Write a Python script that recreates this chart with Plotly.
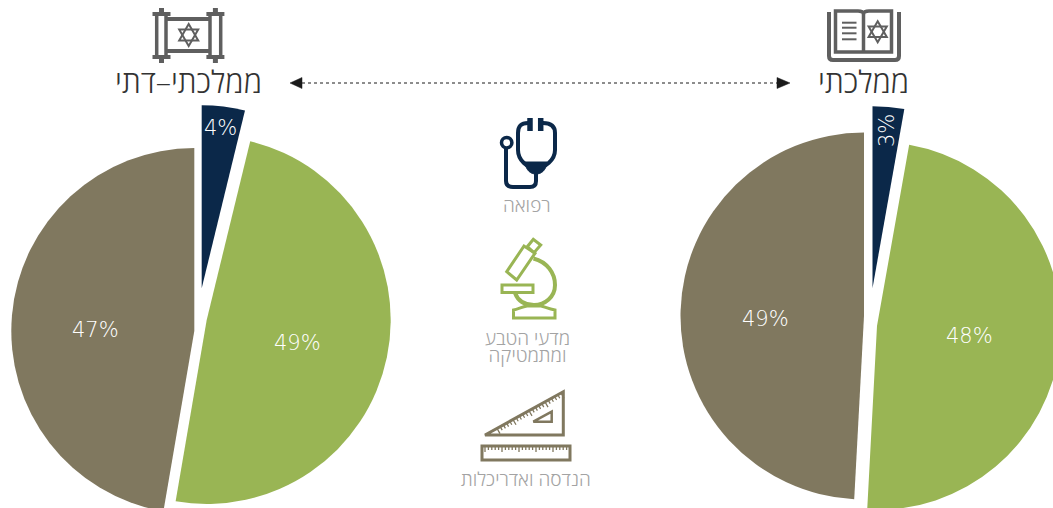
import math
import plotly.graph_objects as go

# canvas is larger than the window so the pies can run off the edge like the original
W, H = 1100, 560

SEGMENTS = ["רפואה", "מדעי הטבע ומתמטיקה", "הנדסה ואדריכלות"]
# printed labels are these rounded
RELIGIOUS = [3.8, 48.9, 47.3]
STATE = [2.8, 48.1, 49.2]

NAVY = "#0b2849"
GREEN = "#99b554"
TAUPE = "#80785f"
COLORS = [NAVY, GREEN, TAUPE]
ICON_GREY = "#5f5f5f"
TEXT_DARK = "#333333"
TEXT_GREY = "#a3a3a3"
HEB_FONT = "Open Sans"
PCT_FONT = dict(family="DejaVu Sans", size=21, color="white", weight=200)

# slice centre x, y and radius (px); each slice is pushed out by hand
LEFT_SLICES = [(201.7, 288.3, 183), (206.7, 320, 184), (194.3, 331, 183)]
RIGHT_SLICES = [(872.5, 288.3, 182), (877, 326, 184), (864, 316, 183.5)]


def slice_trace(values, idx, cx, cy, r):
    colors = ["rgba(0,0,0,0)"] * len(values)
    colors[idx] = COLORS[idx]
    return go.Pie(
        labels=SEGMENTS, values=values, sort=False, direction="clockwise", rotation=0,
        marker=dict(colors=colors, line=dict(width=0)),
        textinfo="none", hoverinfo="skip", showlegend=False,
        domain=dict(x=[(cx - r) / W, (cx + r) / W], y=[1 - (cy + r) / H, 1 - (cy - r) / H]),
    )


fig = go.Figure()
# invisible point so the pixel axes exist for the icons
fig.add_trace(go.Scatter(x=[0], y=[0], mode="markers", marker=dict(opacity=0), hoverinfo="skip", showlegend=False))
for i, (cx, cy, r) in enumerate(LEFT_SLICES):
    fig.add_trace(slice_trace(RELIGIOUS, i, cx, cy, r))
for i, (cx, cy, r) in enumerate(RIGHT_SLICES):
    fig.add_trace(slice_trace(STATE, i, cx, cy, r))


def draw(path, color, width=2.0, fill=None):
    fig.add_shape(type="path", path=path, xref="x", yref="y", layer="above",
                  line=dict(color=color, width=width), fillcolor=fill or "rgba(0,0,0,0)")


def line(x0, y0, x1, y1, color, width=2.0):
    draw(f"M {x0} {y0} L {x1} {y1}", color, width)


def star(cx, cy, r, color, width=2.0):
    for off in (-90, 90):
        pts = [(cx + r * math.cos(math.radians(off + k * 120)),
                cy + r * math.sin(math.radians(off + k * 120))) for k in range(3)]
        draw("M " + " L ".join(f"{x:.1f} {y:.1f}" for x, y in pts) + " Z", color, width)


def text(x, y, s, size, color, family=HEB_FONT, weight=300):
    fig.add_annotation(x=x, y=y, text=s, showarrow=False, xref="x", yref="y",
                       font=dict(family=family, size=size, color=color, weight=weight))


# torah scroll
for x0, x1, knob in [(156.7, 166, 161.5), (210, 220.7, 215.4)]:
    line(x0, 13, x0, 58, ICON_GREY, 3.5)
    line(x1, 13, x1, 58, ICON_GREY, 3.5)
    line(knob - 9, 14, knob + 9, 14, ICON_GREY, 4)
    line(knob - 9, 57, knob + 9, 57, ICON_GREY, 4)
    line(knob, 8, knob, 14, ICON_GREY, 5)
    line(knob, 57, knob, 63, ICON_GREY, 5)
line(166, 19, 210, 19, ICON_GREY, 4)
line(166, 51, 210, 51, ICON_GREY, 4)
star(188.7, 35, 11, ICON_GREY)

# open book
draw("M 829 12 L 829 56 Q 829 60 833 60 L 895 60 Q 899 60 899 56 L 899 12", ICON_GREY, 4)
draw("M 835.5 11 L 858 11 Q 863 11 863.5 14 Q 864 11 869 11 L 891.5 11 L 891.5 52 L 835.5 52 Z", ICON_GREY, 3.5)
line(863.5, 14, 863.5, 52, ICON_GREY, 3.5)
for y in (22.7, 27.7, 33.3, 39.3):
    line(842, y, 856.5, y, ICON_GREY, 2)
star(877.7, 31.7, 10.5, ICON_GREY)

# stethoscope
draw("M 528 123 C 521 123 518 126 518 133 L 518 150 C 518 160 527 168 536 168 "
     "C 545 168 555 160 555 150 L 555 133 C 555 126 551 123 543 123", NAVY, 4)
draw("M 525 162 L 547 162 C 546 171 541 174 536 174 C 531 174 526 171 525 162 Z", NAVY, 1, NAVY)
draw("M 536 172 L 536 181 C 536 185 534 187 530 187 L 513 187 C 508 187 506 185 506 181 L 506 148", NAVY, 4)
line(530, 118, 530, 131, NAVY, 5.5)
line(540.7, 118, 540.7, 131, NAVY, 5.5)
fig.add_shape(type="circle", x0=501.5, x1=511.9, y0=137.5, y1=147.9, xref="x", yref="y", layer="above",
              line=dict(color=NAVY, width=3.5))

# microscope
draw("M 506.7 271.7 L 516.7 280 L 535 253.3 L 524 246 Z", GREEN, 3)
draw("M 527.3 246.7 L 534 252.7 L 540.7 245 L 533.3 239.3 Z", GREEN, 3)
draw("M 533.5 258.5 C 547 262 555 273 555 285 C 555 297 545 305 534 305 C 525 305 518 301 515 293", GREEN, 4)
draw("M 502 285 L 533 285 L 533 292.5 L 502 292.5 Z", GREEN, 3)
draw("M 513.5 318 L 555 318 L 555 310 C 549 309 545 307 541 306 L 527 306 C 522 307 518 309 513.5 310 Z", GREEN, 3)

# set square and ruler
draw("M 485 435 L 563.3 391.7 L 563.3 435 Z", TAUPE, 3)
draw("M 533.3 421.7 L 551.7 411.7 L 551.7 421.7 Z", TAUPE, 2.5)
draw("M 482 446 L 570 446 L 570 460 L 482 460 Z", TAUPE, 3)
ticks = ""
for k in range(26):
    t = k * 3.4
    length = 6 if k % 5 == 0 else 4
    ticks += f"M {485 + t:.1f} 446 L {485 + t:.1f} {446 + length} "
draw(ticks, TAUPE, 1.3)
ticks = ""
for k in range(21):
    x = 497 + k * 3.2
    y = 428.4 - k * 3.2 * 0.553
    length = 6 if k % 5 == 0 else 4
    ticks += f"M {x:.1f} {y:.1f} L {x + 0.5 * length:.1f} {y + 0.87 * length:.1f} "
draw(ticks, TAUPE, 1.3)

# double arrow between the two sectors
line(302, 83, 778, 83, "#1a1a1a", 1)
fig.layout.shapes[-1].line.dash = "dot"
draw("M 290 83 L 302 77.5 L 302 88.5 Z", "#1a1a1a", 0.5, "#1a1a1a")
draw("M 790 83 L 777 77.5 L 777 88.5 Z", "#1a1a1a", 0.5, "#1a1a1a")

text(188, 81, "ממלכתי–דתי", 30.5, TEXT_DARK)
text(863, 81, "ממלכתי", 30.5, TEXT_DARK)
text(527, 205, SEGMENTS[0], 19, TEXT_GREY)
# small base size keeps the two lines as tight as in the original
text(527, 346, '<span style="font-size:19px">מדעי הטבע</span><br>'
               '<span style="font-size:19px">ומתמטיקה</span>', 13, TEXT_GREY)
text(526, 479, SEGMENTS[2], 19, TEXT_GREY)

# percent labels
LABEL_POS = [(220, 128, 0), (297, 343, 0), (95, 330, 0)]
for v, (x, y, ang) in zip(RELIGIOUS, LABEL_POS):
    fig.add_annotation(x=x, y=y, text=f"{round(v)}%", showarrow=False, font=PCT_FONT,
                       textangle=ang, xref="x", yref="y")
LABEL_POS = [(887, 131, -90), (969, 336, 0), (765, 319, 0)]
for v, (x, y, ang) in zip(STATE, LABEL_POS):
    fig.add_annotation(x=x, y=y, text=f"{round(v)}%", showarrow=False, font=PCT_FONT,
                       textangle=ang, xref="x", yref="y")

fig.update_layout(
    width=W, height=H,
    margin=dict(l=0, r=0, t=0, b=0),
    paper_bgcolor="white", plot_bgcolor="rgba(0,0,0,0)",
    showlegend=False,
    xaxis=dict(visible=False, range=[0, W], fixedrange=True),
    yaxis=dict(visible=False, range=[H, 0], fixedrange=True),
)
fig.write_html(
    "out.html", config=dict(displayModeBar=False),
    post_script="document.body.style.margin='0';document.body.style.overflow='hidden';"
                "document.documentElement.style.overflow='hidden';",
)
